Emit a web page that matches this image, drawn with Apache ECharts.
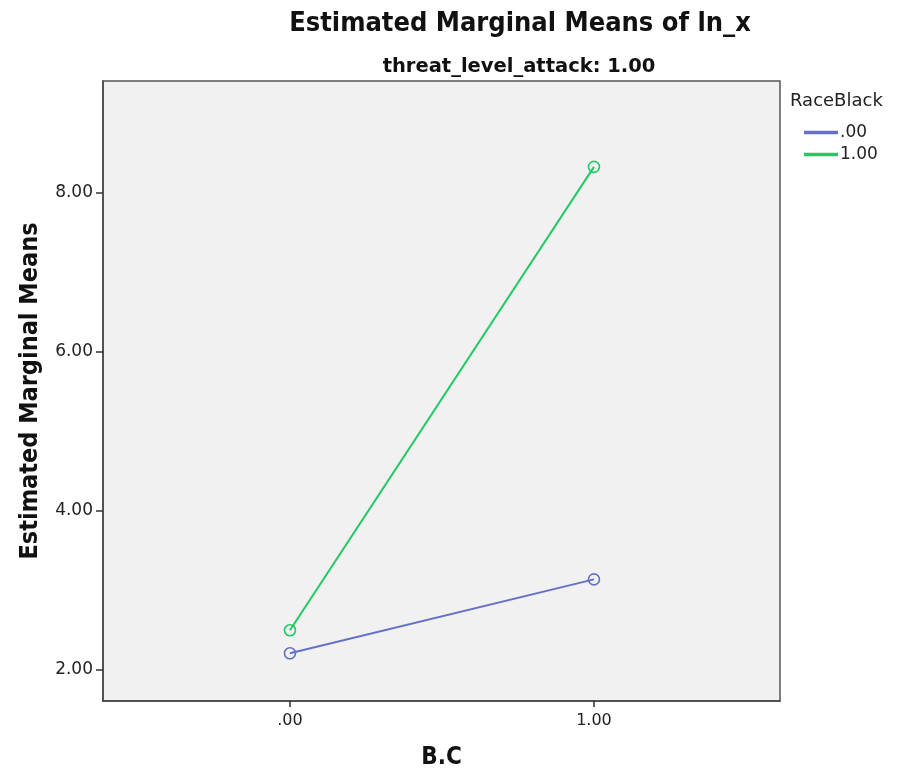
<!DOCTYPE html>
<html>
<head>
<meta charset="utf-8">
<script src="https://cdn.jsdelivr.net/npm/echarts@6/dist/echarts.min.js"></script>
<style>
  html, body { margin: 0; padding: 0; background: #fff; }
  #chart { width: 899px; height: 775px; }
</style>
</head>
<body>
<div id="chart"></div>
<script>
// B.C levels on the x axis
const bcLevels = [0, 1];
const bcLabels = [".00", "1.00"];
// RaceBlack groups
const groupNames = [".00", "1.00"];
const groupColors = ["#6470c8", "#22c964"];
const race0Means = [2.21, 3.14];
const race1Means = [2.50, 8.33];
const yTicks = [2, 4, 6, 8];

const myChart = echarts.init(document.getElementById("chart"));

function pairs(vals) {
  return bcLevels.map((x, i) => [x, vals[i]]);
}

function makeSeries(idx, vals) {
  return {
    name: groupNames[idx],
    type: "line",
    data: pairs(vals),
    symbol: "circle",
    symbolSize: 11,
    color: groupColors[idx],
    lineStyle: { width: 2, color: groupColors[idx] },
    // hollow marker, line shows through
    itemStyle: { color: "rgba(0,0,0,0)", borderColor: groupColors[idx], borderWidth: 1.6 }
  };
}

myChart.setOption({
  animation: false,
  textStyle: { fontFamily: "DejaVu Sans" },
  title: [
    {
      text: "Estimated Marginal Means of ln_x",
      left: 515,
      top: 5,
      textAlign: "center",
      textStyle: { fontFamily: "DejaVu Sans Condensed", fontWeight: "bold", fontSize: 27, color: "#111" }
    },
    {
      text: "threat_level_attack: 1.00",
      left: 514,
      top: 52,
      textAlign: "center",
      textStyle: { fontFamily: "DejaVu Sans", fontWeight: "bold", fontSize: 19.5, color: "#111" }
    }
  ],
  graphic: [
    {
      type: "text",
      left: 790,
      top: 92,
      style: { text: "RaceBlack", font: "18px 'DejaVu Sans'", fill: "#222" }
    }
  ],
  legend: {
    orient: "vertical",
    left: 804,
    top: 124,
    padding: 0,
    icon: "rect",
    itemWidth: 32,
    itemHeight: 1.5,
    itemGap: 5,
    textStyle: { fontSize: 17, color: "#222", padding: [0, 0, 0, -2] },
    data: groupNames.map((n, i) => ({ name: n, itemStyle: { color: groupColors[i] } }))
  },
  grid: {
    left: 103,
    right: 119,
    top: 81,
    bottom: 74,
    show: true,
    backgroundColor: "#f1f1f1",
    borderColor: "#555",
    borderWidth: 1.5
  },
  xAxis: {
    type: "value",
    min: -0.615,
    max: 1.612,
    name: "B.C",
    nameLocation: "middle",
    nameGap: 45,
    nameTextStyle: { fontFamily: "DejaVu Sans Condensed", fontWeight: "bold", fontSize: 24, color: "#111" },
    axisLine: { show: true, onZero: false, lineStyle: { color: "#444", width: 1.5 } },
    axisTick: { show: true, length: 6, customValues: bcLevels, lineStyle: { color: "#333", width: 1.5 } },
    axisLabel: {
      customValues: bcLevels,
      fontSize: 16,
      color: "#222",
      margin: 12,
      formatter: (v) => bcLabels[bcLevels.indexOf(v)]
    },
    splitLine: { show: false }
  },
  yAxis: {
    type: "value",
    min: 1.61,
    max: 9.41,
    name: "Estimated Marginal Means",
    nameLocation: "middle",
    nameGap: 60,
    nameTextStyle: { fontFamily: "DejaVu Sans Condensed", fontWeight: "bold", fontSize: 25, color: "#111" },
    axisLine: { show: true, onZero: false, lineStyle: { color: "#444", width: 1.5 } },
    axisTick: { show: true, length: 7, customValues: yTicks, lineStyle: { color: "#333", width: 1.5 } },
    axisLabel: {
      customValues: yTicks,
      fontSize: 17,
      color: "#222",
      margin: 10,
      formatter: (v) => v.toFixed(2)
    },
    splitLine: { show: false }
  },
  series: [makeSeries(0, race0Means), makeSeries(1, race1Means)]
});
</script>
</body>
</html>
